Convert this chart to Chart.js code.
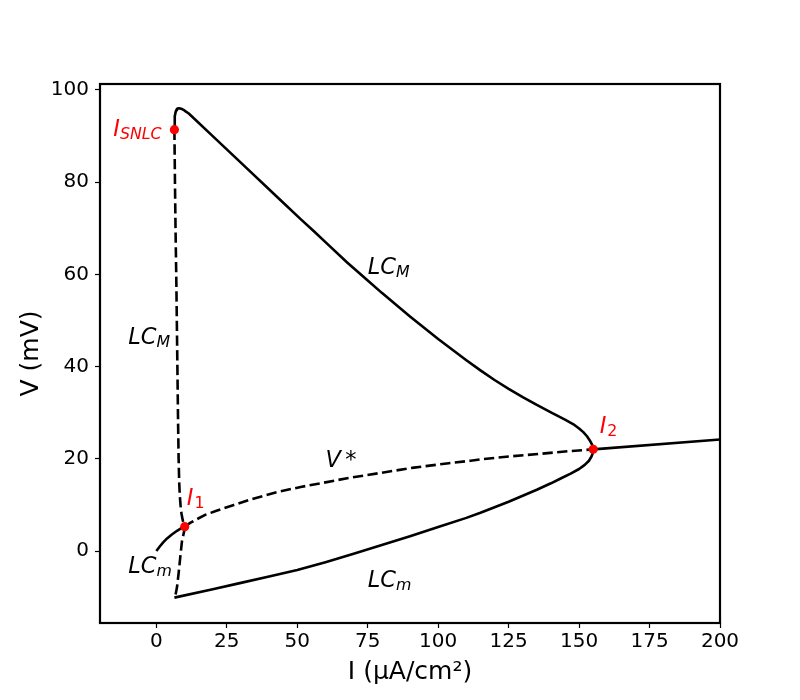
<!DOCTYPE html>
<html><head><meta charset="utf-8">
<script src="https://cdn.jsdelivr.net/npm/chart.js@4.4.1/dist/chart.umd.min.js"></script>
<style>html,body{margin:0;padding:0;background:#fff}</style>
</head><body>
<canvas id="c" width="800" height="700"></canvas>
<script>
// ---- tick labels ----
const xTicks = [0, 25, 50, 75, 100, 125, 150, 175, 200];
const yTicks = [0, 20, 40, 60, 80, 100];

// ---- stable large limit cycle maximum (LC_M, solid) ----
const lcMaxStableI = [6.4, 6.45, 6.6, 6.8, 7.0, 7.3, 7.6, 8.0, 8.5, 9.0, 9.6, 10.5, 11.5, 20, 31, 44, 51.2, 56, 60, 67.7, 75, 80, 90, 100, 110, 115, 120, 125, 130, 135, 140, 145, 148, 150, 151.5, 152.8, 153.8, 154.5, 154.9, 155];
const lcMaxStableV = [91.4, 93.0, 94.3, 95.1, 95.6, 95.9, 96.0, 96.05, 96.0, 95.9, 95.7, 95.3, 94.9, 90.0, 83.65, 76.15, 72.0, 69.3, 67.0, 62.6, 58.7, 56.0, 50.9, 46.0, 41.4, 39.2, 37.1, 35.2, 33.4, 31.7, 30.1, 28.5, 27.5, 26.6, 25.8, 24.9, 24.0, 23.2, 22.6, 22.06];

// ---- unstable limit cycle (dashed, LC_M upper part and LC_m lower part) ----
const lcUnstableI = [6.4, 6.6, 6.8, 7.1, 7.3, 7.5, 7.7, 7.9, 8.1, 8.3, 8.6, 8.9, 9.35, 9.8, 10.06, 9.9, 9.5, 9.1, 8.5, 7.9, 7.35, 7.0, 6.7, 6.4];
const lcUnstableV = [91.4, 80, 70, 57.9, 48, 38, 28, 20, 15, 12.2, 9.8, 8.2, 6.7, 5.8, 5.3, 4.4, 3.3, 2.2, -1.2, -4.8, -7.7, -8.9, -9.7, -10.1];

// ---- unstable equilibrium V* (dashed) ----
const vStarI = [10.06, 12, 14, 17.5, 21.6, 27.5, 33.4, 42.9, 51.2, 60, 67.7, 80, 91.4, 103, 111.5, 115.1, 125, 136.4, 145, 155];
const vStarV = [5.3, 6.1, 6.8, 7.9, 8.8, 10.0, 11.2, 12.8, 13.9, 14.9, 15.8, 17.0, 18.1, 19.0, 19.6, 19.9, 20.5, 21.1, 21.6, 22.06];

// ---- stable limit cycle minimum (LC_m, solid) ----
const lcMinStableI = [6.4, 20, 30, 40, 50, 60, 70, 80, 90, 100, 110, 115, 120, 125, 130, 135, 140, 144, 147, 150, 152, 153.5, 154.4, 154.9, 155];
const lcMinStableV = [-10.1, -8.3, -6.9, -5.5, -4.1, -2.4, -0.6, 1.3, 3.2, 5.2, 7.2, 8.3, 9.5, 10.7, 12.0, 13.3, 14.7, 15.9, 16.8, 17.8, 18.7, 19.6, 20.5, 21.3, 22.06];

// ---- stable rest branch at low current (solid) ----
const restLowI = [0, 1.2, 2.5, 3.8, 5.5, 7.35, 8.7, 10.06];
const restLowV = [0, 1.0, 1.95, 2.75, 3.6, 4.4, 4.9, 5.3];

// ---- stable rest branch at high current (solid) ----
const restHighI = [155, 200];
const restHighV = [22.06, 24.2];

// ---- bifurcation points ----
const bifNames = ['SNLC', '1', '2'];
const bifI = [6.4, 10.06, 155];
const bifV = [91.4, 5.3, 22.06];

function pts(xs, ys) { return xs.map((x, i) => ({ x: x, y: ys[i] })); }

// annotation labels (text + anchor in data coordinates)
const annotations = [
  { x: -15.3, y: 90, base: 'I', sub: 'SNLC', color: '#ff0000' },
  { x: 10.8, y: 10, base: 'I', sub: '1', subUpright: true, color: '#ff0000' },
  { x: 157.3, y: 25.6, base: 'I', sub: '2', subUpright: true, color: '#ff0000' },
  { x: 75, y: 60.2, base: 'LC', sub: 'M', color: '#000' },
  { x: -10, y: 45, base: 'LC', sub: 'M', color: '#000' },
  { x: 75, y: -7.7, base: 'LC', sub: 'm', color: '#000' },
  { x: -10, y: -4.8, base: 'LC', sub: 'm', color: '#000' },
  { x: 60, y: 18.3, base: 'V', star: true, color: '#000' }
];

const FAM = '"DejaVu Sans"';
Chart.defaults.font.family = FAM;

const labelPlugin = {
  id: 'labels',
  afterDatasetsDraw(chart) {
    const ctx = chart.ctx, xs = chart.scales.x, ys = chart.scales.y;
    ctx.save();
    ctx.textBaseline = 'alphabetic';
    ctx.textAlign = 'left';
    annotations.forEach(a => {
      const px = xs.getPixelForValue(a.x), py = ys.getPixelForValue(a.y);
      ctx.fillStyle = a.color;
      ctx.font = 'italic 22.5px ' + FAM;
      ctx.fillText(a.base, px, py);
      const w = ctx.measureText(a.base).width;
      if (a.sub) {
        ctx.font = (a.subUpright ? '' : 'italic ') + '15.8px ' + FAM;
        ctx.fillText(a.sub, px + w + (a.subUpright ? 1 : 0), py + 3);
      }
      if (a.star) {
        ctx.font = '22.5px ' + FAM;
        ctx.fillText('*', px + w + 4.5, py);
      }
    });
    ctx.restore();
  },
  afterDraw(chart) {
    const ctx = chart.ctx, ca = chart.chartArea;
    ctx.save();
    ctx.strokeStyle = '#000';
    ctx.lineWidth = 2.2;
    ctx.strokeRect(ca.left, ca.top, ca.right - ca.left, ca.bottom - ca.top);
    ctx.restore();
  }
};

const LW = 2.6;
const DASH = [10.3, 4.4];
function lineDs(label, xs, ys, dashed) {
  return {
    label: label, data: pts(xs, ys), showLine: true, pointRadius: 0, pointHoverRadius: 0,
    borderColor: '#000', borderWidth: LW, borderDash: dashed ? DASH : [], tension: 0,
    borderJoinStyle: 'round', fill: false, order: 2
  };
}

new Chart(document.getElementById('c'), {
  type: 'scatter',
  data: {
    datasets: [
      {
        label: 'bifurcations', data: pts(bifI, bifV), showLine: false,
        pointRadius: 4.6, pointBackgroundColor: '#ff0000', pointBorderColor: '#ff0000',
        pointBorderWidth: 0, order: 0
      },
      lineDs('LC_M stable', lcMaxStableI, lcMaxStableV, false),
      lineDs('LC unstable', lcUnstableI, lcUnstableV, true),
      lineDs('V*', vStarI, vStarV, true),
      lineDs('LC_m stable', lcMinStableI, lcMinStableV, false),
      lineDs('rest low', restLowI, restLowV, false),
      lineDs('rest high', restHighI, restHighV, false)
    ]
  },
  options: {
    responsive: false, animation: false, devicePixelRatio: 1,
    layout: { padding: { left: 0, top: 84, right: 80, bottom: 0 } },
    plugins: { legend: { display: false }, tooltip: { enabled: false } },
    scales: {
      x: {
        type: 'linear', min: -20, max: 200,
        afterBuildTicks: a => { a.ticks = xTicks.map(v => ({ value: v })); },
        afterFit: s => { s.height = 77; },
        ticks: { font: { size: 20 }, color: '#000', padding: 2, maxRotation: 0, autoSkip: false },
        grid: { drawOnChartArea: false, drawTicks: true, tickLength: 5, tickWidth: 1.2, tickColor: '#000' },
        border: { display: false },
        title: { display: true, text: 'I (μA/cm²)', font: { size: 25 }, color: '#000', padding: { top: 0, bottom: 13 } }
      },
      y: {
        type: 'linear', min: -15.6, max: 101.3,
        afterBuildTicks: a => { a.ticks = yTicks.map(v => ({ value: v })); },
        afterFit: s => { s.width = 100; },
        ticks: { font: { size: 20 }, color: '#000', padding: 6, autoSkip: false },
        grid: { drawOnChartArea: false, drawTicks: true, tickLength: 5, tickWidth: 1.2, tickColor: '#000' },
        border: { display: false },
        title: { display: true, text: 'V (mV)', font: { size: 25 }, color: '#000', padding: { top: 16, bottom: 0 } }
      }
    }
  },
  plugins: [labelPlugin]
});
</script>
</body></html>
